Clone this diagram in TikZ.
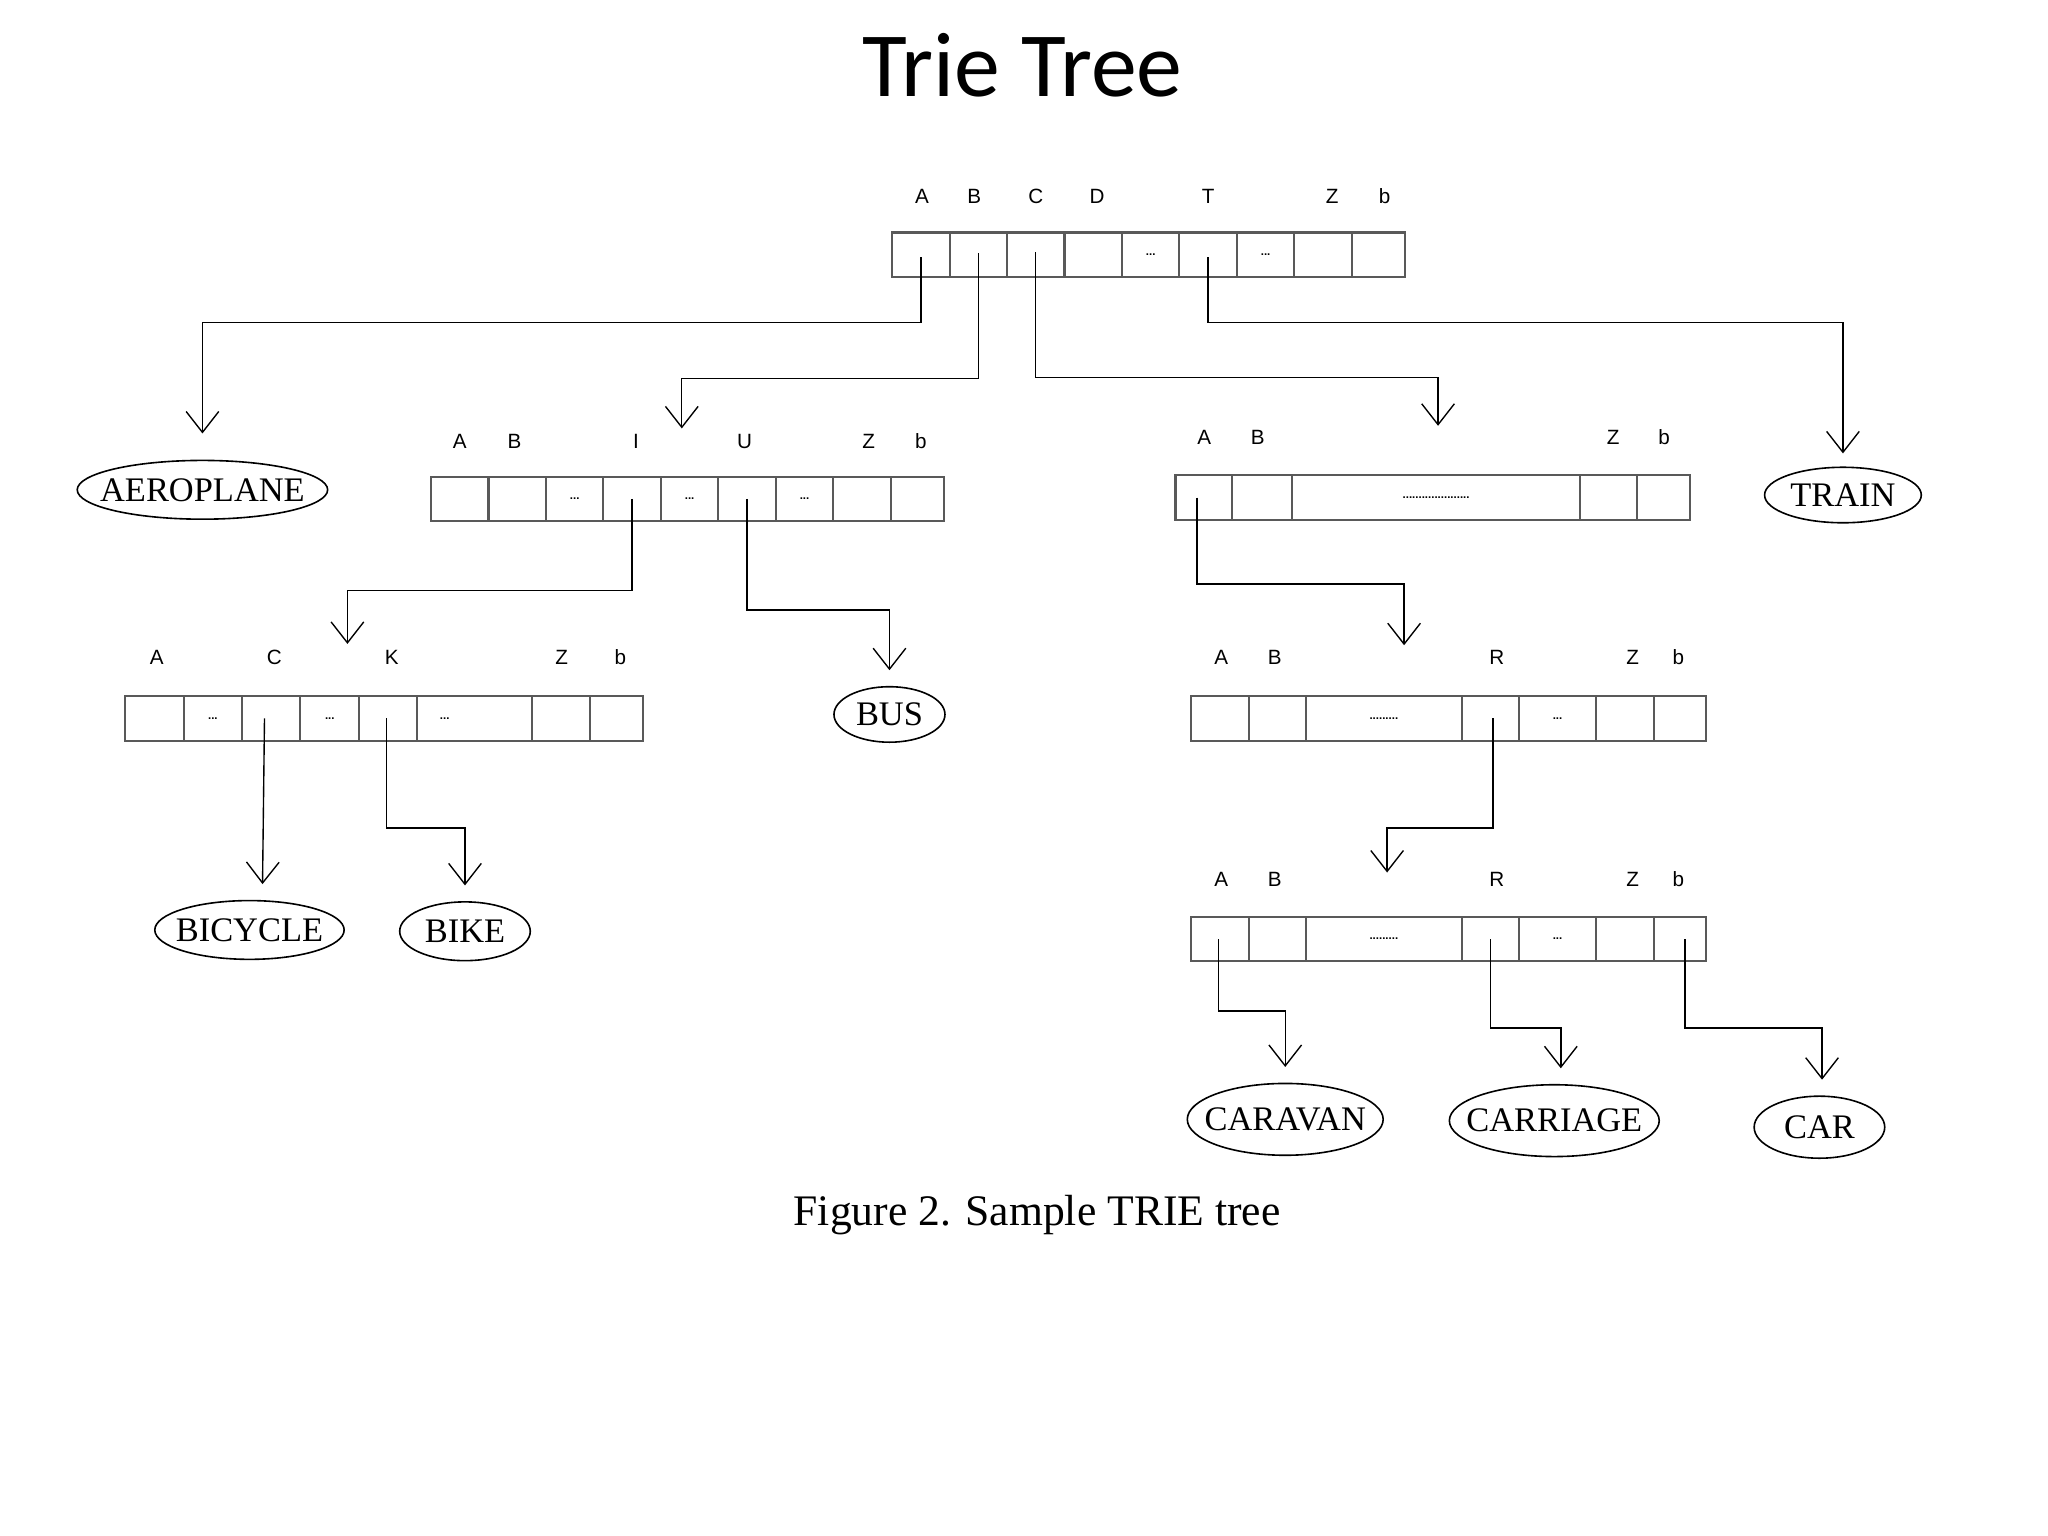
\documentclass[tikz,border=0pt]{standalone}
\usepackage{fontspec}
\setmainfont{Liberation Serif}
\newfontfamily\titlefont{Carlito}
\newfontfamily\keyfont{Liberation Sans}
\usetikzlibrary{arrows.meta,shapes,positioning,calc}
\tikzset{
  cell/.style={draw=black!65, line width=0.9pt, inner sep=0pt, minimum height=0.68cm, font=\keyfont\bfseries\fontsize{5}{5}\selectfont},
  key/.style={font=\keyfont\fontsize{9}{9}\selectfont},
  word/.style={draw, ellipse, line width=0.7pt, inner ysep=0pt, inner xsep=-6pt, font=\fontsize{15}{15}\selectfont},
  link/.style={line width=0.6pt, -{Straight Barb[length=3.2mm,width=5mm]}},
}
\newcommand{\dd}{...}
\newcommand{\ddlong}{.........}
\newcommand{\ddwide}{.....................}
% one array of cells: name, top y, list of left/right/text
\newcommand{\cellrow}[3]{%
  \foreach \a/\b/\t [count=\i] in {#3}
    \node[cell, minimum width={(\b-\a)*0.02cm}] (#1\i) at ({(\a+\b)/2},{#2+17}) {\t};}
\begin{document}
\begin{tikzpicture}[x=0.02cm, y=-0.02cm]
    \useasboundingbox (0,0) rectangle (1568,1176);

    % title
    \node[font=\titlefont\fontsize{40}{40}\selectfont] (title) at (783,50) {Trie Tree};

    % root
    \cellrow{r}{178}{683/727/, 727/771/, 771/815/, 815/859/, 859/903/\dd, 903/947/, 947/991/\dd, 991/1035/, 1035/1076/}
    \foreach \x/\l in {706/A, 746/B, 793/C, 840/D, 925/T, 1020/Z, 1060/b}
        \node[key] at (\x,150) {\l};

    % level B
    \cellrow{b}{365}{330/374/, 374/418/, 418/462/\dd, 462/506/, 506/550/\dd, 550/594/, 594/638/\dd, 638/682/, 682/723/}
    \foreach \x/\l in {352/A, 394/B, 487/I, 570/U, 665/Z, 705/b}
        \node[key] at (\x,338) {\l};

    % level BI
    \cellrow{bi}{533}{96/141/, 141/185/\dd, 185/230/, 230/275/\dd, 275/319/, 319/407/\hspace{-0.9cm}\dd, 407/452/, 452/492/}
    \foreach \x/\l in {120/A, 210/C, 300/K, 430/Z, 475/b}
        \node[key] at (\x,503) {\l};

    % level C
    \cellrow{c}{364}{900/943/, 943/989/, 989/1210/\ddwide, 1210/1253/, 1253/1294/}
    \foreach \x/\l in {922/A, 963/B, 1235/Z, 1274/b}
        \node[key] at (\x,335) {\l};

    % level CA
    \cellrow{ca}{533}{912/956/, 956/1000/, 1000/1119/\ddlong, 1119/1163/, 1163/1222/\dd, 1222/1266/, 1266/1306/}
    \foreach \x/\l in {935/A, 976/B, 1146/R, 1250/Z, 1285/b}
        \node[key] at (\x,503) {\l};

    % level CAR
    \cellrow{car}{702}{912/956/, 956/1000/, 1000/1119/\ddlong, 1119/1163/, 1163/1222/\dd, 1222/1266/, 1266/1306/}
    \foreach \x/\l in {935/A, 976/B, 1146/R, 1250/Z, 1285/b}
        \node[key] at (\x,673) {\l};

    % words
    \node[word, minimum width=3.8cm, minimum height=0.9cm] (aero) at (155,375) {AEROPLANE};
    \node[word, minimum width=2.4cm, minimum height=0.85cm] (train) at (1411,379) {TRAIN};
    \node[word, minimum width=1.7cm, minimum height=0.85cm] (bus) at (681,547) {BUS};
    \node[word, minimum width=2.9cm, minimum height=0.9cm] (bicycle) at (191,712) {BICYCLE};
    \node[word, minimum width=2.0cm, minimum height=0.9cm] (bike) at (356,713) {BIKE};
    \node[word, minimum width=3.0cm, minimum height=1.1cm] (caravan) at (984,857) {CARAVAN};
    \node[word, minimum width=3.1cm, minimum height=1.1cm] (carriage) at (1190,858) {CARRIAGE};
    \node[word, minimum width=2.0cm, minimum height=0.95cm] (car) at (1393,863) {CAR};

    % caption
    \node[font=\fontsize{19}{19}\selectfont] (caption) at (794,930) {Figure 2. Sample TRIE tree};

    % free ends above child arrays
    \coordinate (toB) at (522,328);
    \coordinate (toC) at (1101,326);
    \coordinate (toBI) at (266,493);
    \coordinate (toCA) at (1075,494);
    \coordinate (toCAR) at (1062,668);

    % links
    \draw[link] ($(r1.center)+(0,2)$) -- (r1.center |- 0,247) -| ($(aero.north)+(0,-20)$);
    \draw[link] ($(r2.center)+(0,-1)$) -- ($(r2.center)+(0,95)$) -| (toB);
    \draw[link] ($(r3.center)+(0,-2)$) -- ($(r3.center)+(0,94)$) -| (toC);
    \draw[link] ($(r6.center)+(0,2)$) -- (r6.center |- 0,247) -| ($(train.north)+(0,-10)$);
    \draw[link] (b4.center) -- (b4.center |- 0,452) -| (toBI);
    \draw[link] (b6.center) -- (b6.center |- 0,467) -| ($(bus.north)+(0,-12)$);
    \draw[link] ($(bi3.center)+(-5,0)$) -- ($(bicycle.north)+(10,-12)$);
    \draw[link] ($(bi5.center)+(-1,0)$) -- ($(bi5.center)+(-1,84)$) -| ($(bike.north)+(0,-12)$);
    \draw[link] ($(c1.center)+(-5,0)$) -- ($(c1.center)+(-5,66)$) -| (toCA);
    \draw[link] ($(ca4.center)+(2,0)$) -- ($(ca4.center)+(2,84)$) -| (toCAR);
    \draw[link] ($(car1.center)+(-1,0)$) -- ($(car1.center)+(-1,55)$) -| ($(caravan.north)+(0,-12)$);
    \draw[link] ($(car4.center)+(0,0)$) -- ($(car4.center)+(0,68)$) -| ($(carriage.north)+(5,-12)$);
    \draw[link] ($(car7.center)+(4,0)$) -- ($(car7.center)+(4,68)$) -| ($(car.north)+(2,-12)$);
\end{tikzpicture}
\end{document}
